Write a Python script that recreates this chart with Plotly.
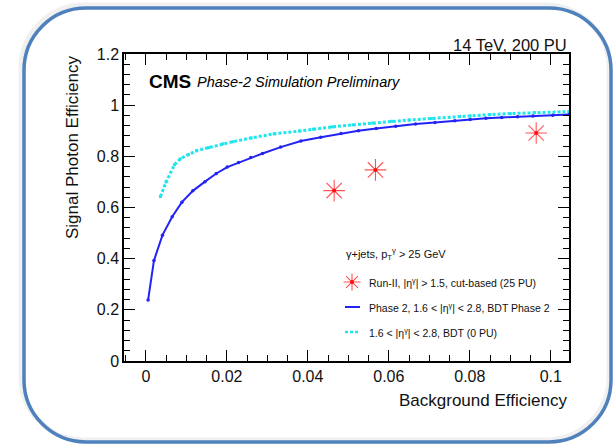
import plotly.graph_objects as go

# ---------------- data ----------------
phase2_bkg = [0.00055, 0.0020, 0.0041, 0.0065, 0.0089, 0.0116, 0.0146, 0.0174, 0.0201,
              0.0229, 0.0259, 0.0288, 0.0333, 0.0383, 0.0432, 0.0482, 0.0525, 0.0569,
              0.0617, 0.0666, 0.0714, 0.0763, 0.0801, 0.0840, 0.0879, 0.0918, 0.0956,
              0.1005, 0.1045]
phase2_sig = [0.238, 0.393, 0.492, 0.564, 0.621, 0.665, 0.701, 0.733, 0.758,
              0.776, 0.795, 0.811, 0.836, 0.860, 0.875, 0.889, 0.900, 0.909,
              0.918, 0.926, 0.932, 0.939, 0.944, 0.949, 0.952, 0.955, 0.958,
              0.961, 0.964]

pu0_bkg = [0.0036, 0.0050, 0.0071, 0.0085, 0.0105, 0.0125, 0.0155, 0.0190, 0.0215,
           0.0260, 0.0317, 0.0380, 0.0414, 0.0460, 0.0512, 0.0560, 0.0607, 0.0650,
           0.0705, 0.0775, 0.0801, 0.0850, 0.0900, 0.0960, 0.1045]
pu0_sig = [0.643, 0.700, 0.768, 0.790, 0.807, 0.822, 0.834, 0.849, 0.857,
           0.872, 0.888, 0.899, 0.906, 0.915, 0.923, 0.930, 0.937, 0.942,
           0.948, 0.956, 0.958, 0.963, 0.967, 0.971, 0.975]

run2_bkg = [0.0465, 0.0567, 0.0964]
run2_sig = [0.666, 0.747, 0.891]

x_ticks = [0, 0.02, 0.04, 0.06, 0.08, 0.1]
x_ticklabels = ["0", "0.02", "0.04", "0.06", "0.08", "0.1"]
y_ticks = [0, 0.2, 0.4, 0.6, 0.8, 1.0, 1.2]
y_ticklabels = ["0", "0.2", "0.4", "0.6", "0.8", "1", "1.2"]

legend_header = "γ+jets, p<sub>T</sub><sup>γ</sup> &gt; 25 GeV"
legend_labels = [
    "Run-II, |η<sup>γ</sup>| &gt; 1.5, cut-based (25 PU)",
    "Phase 2, 1.6 &lt; |η<sup>γ</sup>| &lt; 2.8, BDT Phase 2",
    "1.6 &lt; |η<sup>γ</sup>| &lt; 2.8, BDT (0 PU)",
]

# ---------------- styles / layout geometry ----------------
W, H = 615, 445
L, R, T, B = 124, 46, 54, 84
PW, PH = W - L - R, H - T - B
FONT = "Liberation Sans, Arial, Helvetica, sans-serif"
BLUE = "#2323f5"
CYAN = "#1fe6ee"
RED = "rgba(255,40,40,0.8)"


def px(x):
    return (x - L) / PW


def py(y):
    return (H - B - y) / PH


fig = go.Figure()

fig.add_trace(go.Scatter(
    x=pu0_bkg, y=pu0_sig, mode="lines+markers",
    line=dict(color=CYAN, width=3, dash="3px,2px"),
    marker=dict(color=CYAN, size=3, symbol="square"),
    showlegend=False, hoverinfo="skip"))

fig.add_trace(go.Scatter(
    x=phase2_bkg, y=phase2_sig, mode="lines+markers",
    line=dict(color=BLUE, width=2),
    marker=dict(color=BLUE, size=3.5),
    showlegend=False, hoverinfo="skip"))

fig.add_trace(go.Scatter(
    x=run2_bkg, y=run2_sig, mode="markers",
    marker=dict(symbol="asterisk-open", size=18, color=RED,
                line=dict(color=RED, width=1.1)),
    showlegend=False, hoverinfo="skip"))
fig.add_trace(go.Scatter(
    x=run2_bkg, y=run2_sig, mode="markers",
    marker=dict(symbol="circle", size=4, color="#ff1010"),
    showlegend=False, hoverinfo="skip"))

axis_common = dict(
    showline=True, linecolor="black", linewidth=1.5, mirror="ticks",
    ticks="inside", ticklen=11, tickwidth=1.2, tickcolor="black",
    showgrid=False, zeroline=False,
    tickfont=dict(family=FONT, size=16, color="#111"),
)

fig.update_xaxes(range=[-0.0054, 0.1045], tickvals=x_ticks, ticktext=x_ticklabels,
                 minor=dict(ticks="inside", ticklen=6, tickwidth=1, tickcolor="black",
                            dtick=0.005, tick0=0, showgrid=False),
                 **axis_common)
fig.update_yaxes(range=[0, 1.2], tickvals=y_ticks, ticktext=y_ticklabels,
                 minor=dict(ticks="inside", ticklen=6, tickwidth=1, tickcolor="black",
                            dtick=0.04, tick0=0, showgrid=False),
                 **axis_common)

annotations = [
    dict(x=px(569), y=py(45), text="14 TeV, 200 PU", xanchor="right", yanchor="middle",
         font=dict(family=FONT, size=16.5, color="#111")),
    dict(x=px(147), y=py(81), text="<b>CMS</b>", xanchor="left", yanchor="middle",
         font=dict(family=FONT, size=19, color="black")),
    dict(x=px(195), y=py(82), text="<i>Phase-2 Simulation Preliminary</i>",
         xanchor="left", yanchor="middle",
         font=dict(family=FONT, size=14.5, color="black")),
    dict(x=px(569), y=py(400), text="Background Efficiency", xanchor="right",
         yanchor="middle", font=dict(family=FONT, size=17, color="#111")),
    dict(x=px(72), y=py(53), text="Signal Photon Efficiency", textangle=-90,
         xanchor="center", yanchor="top", font=dict(family=FONT, size=17, color="#111")),
    dict(x=px(344), y=py(254), text=legend_header, xanchor="left", yanchor="middle",
         font=dict(family=FONT, size=11, color="#111")),
]
leg_y = [282, 307, 332]
for lab, yy in zip(legend_labels, leg_y):
    annotations.append(dict(x=px(367), y=py(yy), text=lab, xanchor="left",
                            yanchor="middle",
                            font=dict(family=FONT, size=10.5, color="#111")))
for a in annotations:
    a.update(xref="paper", yref="paper", showarrow=False)

shapes = []


def rrect_path(x0, y0, x1, y1, r):
    k = 0.5523 * r
    pts = []
    pts.append(f"M{px(x0 + r)},{py(y0)}")
    pts.append(f"L{px(x1 - r)},{py(y0)}")
    pts.append(f"C{px(x1 - r + k)},{py(y0)} {px(x1)},{py(y0 + r - k)} {px(x1)},{py(y0 + r)}")
    pts.append(f"L{px(x1)},{py(y1 - r)}")
    pts.append(f"C{px(x1)},{py(y1 - r + k)} {px(x1 - r + k)},{py(y1)} {px(x1 - r)},{py(y1)}")
    pts.append(f"L{px(x0 + r)},{py(y1)}")
    pts.append(f"C{px(x0 + r - k)},{py(y1)} {px(x0)},{py(y1 - r + k)} {px(x0)},{py(y1 - r)}")
    pts.append(f"L{px(x0)},{py(y0 + r)}")
    pts.append(f"C{px(x0)},{py(y0 + r - k)} {px(x0 + r - k)},{py(y0)} {px(x0 + r)},{py(y0)}")
    pts.append("Z")
    return " ".join(pts)


# faint shadow + blue rounded frame
shapes.append(dict(type="path", xref="paper", yref="paper",
                   path=rrect_path(21, 5, 609, 440, 63),
                   line=dict(color="rgba(0,0,0,0.06)", width=5)))
shapes.append(dict(type="path", xref="paper", yref="paper",
                   path=rrect_path(24, 8, 611, 442, 62),
                   line=dict(color="#4f81bd", width=3.5)))

# legend symbols
cx, cy, s = 352, 282, 8.5
star = (f"M{px(cx - s)},{py(cy)} L{px(cx + s)},{py(cy)} "
        f"M{px(cx)},{py(cy - s)} L{px(cx)},{py(cy + s)} "
        f"M{px(cx - s * 0.7)},{py(cy - s * 0.7)} L{px(cx + s * 0.7)},{py(cy + s * 0.7)} "
        f"M{px(cx - s * 0.7)},{py(cy + s * 0.7)} L{px(cx + s * 0.7)},{py(cy - s * 0.7)}")
shapes.append(dict(type="path", xref="paper", yref="paper", path=star,
                   line=dict(color=RED, width=1.1)))
shapes.append(dict(type="circle", xref="paper", yref="paper",
                   x0=px(cx - 2), x1=px(cx + 2), y0=py(cy - 2), y1=py(cy + 2),
                   fillcolor="#ff1010", line=dict(width=0)))
shapes.append(dict(type="line", xref="paper", yref="paper",
                   x0=px(345), x1=px(360), y0=py(307), y1=py(307),
                   line=dict(color=BLUE, width=2)))
shapes.append(dict(type="line", xref="paper", yref="paper",
                   x0=px(345), x1=px(360), y0=py(332), y1=py(332),
                   line=dict(color=CYAN, width=2.5, dash="3px,2px")))

fig.update_layout(
    width=W, height=H,
    margin=dict(l=L, r=R, t=T, b=B, autoexpand=False),
    paper_bgcolor="white", plot_bgcolor="white",
    showlegend=False,
    annotations=annotations, shapes=shapes,
    font=dict(family=FONT),
)

fig.write_html("out.html")
